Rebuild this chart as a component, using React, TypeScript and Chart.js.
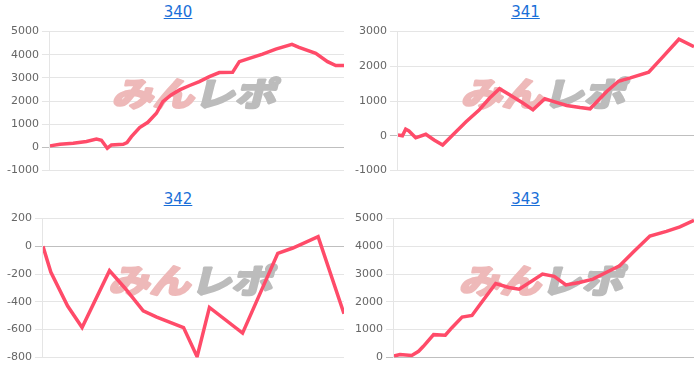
import React, { useEffect, useRef } from "react";
import { Chart, registerables } from "chart.js";

Chart.register(...registerables);

// ---- data (x = position along the session, 0..100; y = difference in coins) ----
const titles = ["340", "341", "342", "343"];

const x340 = [0, 3.4, 7.9, 12.4, 15.8, 17.5, 19.5, 20.9, 24.9, 26.2, 27.7, 30.5, 33.3, 36.2, 38.4, 41.2, 44.1, 47.5, 50.8, 54.2, 57.6, 62.1, 64.4, 67.8, 72.3, 76.8, 82.3, 84.7, 90.4, 94.4, 97.2, 100];
const y340 = [60, 130, 170, 250, 350, 300, -40, 100, 130, 200, 460, 850, 1080, 1470, 1970, 2260, 2480, 2670, 2840, 3050, 3230, 3240, 3700, 3840, 4030, 4240, 4450, 4320, 4060, 3700, 3530, 3530];

const x341 = [0, 1.5, 2.6, 3.7, 6.0, 9.4, 12.2, 15.1, 18.5, 23.0, 27.5, 30.9, 34.3, 37.7, 42.2, 45.6, 49.6, 52.4, 57.0, 61.5, 64.9, 70.6, 74.5, 78.5, 84.7, 88.7, 94.9, 100];
const y341 = [20, 0, 190, 135, -60, 40, -125, -270, 20, 400, 750, 1080, 1355, 1180, 940, 745, 1065, 990, 870, 810, 775, 1280, 1570, 1665, 1830, 2200, 2780, 2565];

const x342 = [0, 2.6, 8.2, 13.0, 22.1, 27.2, 33.3, 37.8, 46.7, 51.2, 55.3, 66.3, 78.0, 83.0, 91.4, 100];
const y342 = [0, -185, -430, -585, -175, -300, -465, -510, -585, -795, -440, -625, -50, -12, 70, -485];

const x343 = [0, 2.0, 5.9, 8.2, 9.8, 13.2, 17.1, 19.3, 22.7, 26.0, 28.3, 33.9, 38.3, 41.7, 46.1, 49.5, 53.4, 57.3, 61.8, 66.3, 70.7, 75.2, 79.7, 85.3, 90.8, 95.3, 100];
const y343 = [50, 100, 70, 220, 400, 820, 800, 1070, 1450, 1510, 1850, 2660, 2520, 2460, 2760, 3000, 2920, 2610, 2700, 2820, 3060, 3300, 3790, 4370, 4540, 4700, 4940];

const yMin = [-1000, -1000, -800, 0];
const yMax = [5000, 3000, 200, 5000];
const yStep = [1000, 1000, 200, 1000];

const seriesX = [x340, x341, x342, x343];
const seriesY = [y340, y341, y342, y343];

// ---- layout ----
const panels = [
  { left: 4, top: 22, width: 340, height: 158, titleX: 178, titleTop: 3 },
  { left: 352, top: 22, width: 342, height: 158, titleX: 525.5, titleTop: 3 },
  { left: 4, top: 209, width: 340, height: 158, titleX: 178, titleTop: 190 },
  { left: 352, top: 209, width: 342, height: 158, titleX: 525.5, titleTop: 190 },
];

const LINE_COLOR = "rgb(255, 75, 105)";
const FONT = "'DejaVu Sans', sans-serif";

const watermark = {
  id: "watermark",
  beforeDatasetsDraw(chart: any) {
    const { ctx, chartArea } = chart;
    const cx = (chartArea.left + chartArea.right) / 2;
    const cy = (chartArea.top + chartArea.bottom) / 2 - 8;
    const a = "みん";
    const b = "レポ";
    ctx.save();
    ctx.font = "bold 36px 'Noto Sans CJK JP'";
    ctx.textBaseline = "middle";
    ctx.textAlign = "left";
    const wa = ctx.measureText(a).width;
    const wb = ctx.measureText(b).width;
    const total = wa + wb;
    ctx.translate(cx, cy);
    ctx.transform(1, 0, -0.25, 1, 0, 0);
    ctx.scale(164 / total, 0.92);
    ctx.lineJoin = "round";
    ctx.lineWidth = 3;
    ctx.fillStyle = "rgb(238, 185, 185)";
    ctx.strokeStyle = "rgb(238, 185, 185)";
    ctx.strokeText(a, -total / 2, 0);
    ctx.fillText(a, -total / 2, 0);
    ctx.fillStyle = "rgb(188, 188, 188)";
    ctx.strokeStyle = "rgb(188, 188, 188)";
    ctx.strokeText(b, -total / 2 + wa, 0);
    ctx.fillText(b, -total / 2 + wa, 0);
    ctx.restore();
  },
};

function MiniChart({ idx }: { idx: number }) {
  const ref = useRef<HTMLCanvasElement | null>(null);
  useEffect(() => {
    if (!ref.current) return;
    const xs = seriesX[idx];
    const ys = seriesY[idx];
    const chart = new Chart(ref.current, {
      type: "line",
      data: {
        datasets: [
          {
            data: xs.map((x, i) => ({ x, y: ys[i] })),
            borderColor: LINE_COLOR,
            backgroundColor: LINE_COLOR,
            borderWidth: 3.5,
            pointRadius: 0,
            tension: 0,
            fill: false,
          },
        ],
      },
      options: {
        animation: false,
        responsive: false,
        maintainAspectRatio: false,
        layout: { padding: 0 },
        plugins: { legend: { display: false }, tooltip: { enabled: false }, title: { display: false } },
        scales: {
          x: { type: "linear", display: false, min: 0, max: 100 },
          y: {
            min: yMin[idx],
            max: yMax[idx],
            ticks: {
              stepSize: yStep[idx],
              color: "#666",
              font: { family: FONT, size: 11 },
              callback: (v: any) => String(v),
            },
            grid: {
              color: (c: any) => (c.tick && c.tick.value === 0 ? "rgba(0,0,0,0.25)" : "rgba(0,0,0,0.1)"),
            },
            border: { color: "rgba(0,0,0,0.1)" },
          },
        },
      },
      plugins: [watermark],
    });
    return () => chart.destroy();
  }, [idx]);
  const p = panels[idx];
  return (
    <>
      <a
        href="#"
        style={{
          position: "absolute",
          left: p.titleX,
          top: p.titleTop,
          transform: "translateX(-50%)",
          color: "#1a6fd8",
          textDecoration: "underline",
          fontFamily: FONT,
          fontSize: 15,
          lineHeight: "18px",
        }}
      >
        {titles[idx]}
      </a>
      <canvas
        ref={ref}
        width={p.width}
        height={p.height}
        style={{ position: "absolute", left: p.left, top: p.top, width: p.width, height: p.height }}
      />
    </>
  );
}

export default function App() {
  return (
    <div style={{ position: "absolute", left: 0, top: 0, width: 700, height: 368, background: "#fff", overflow: "hidden" }}>
      {[0, 1, 2, 3].map((i) => (
        <MiniChart key={i} idx={i} />
      ))}
    </div>
  );
}
